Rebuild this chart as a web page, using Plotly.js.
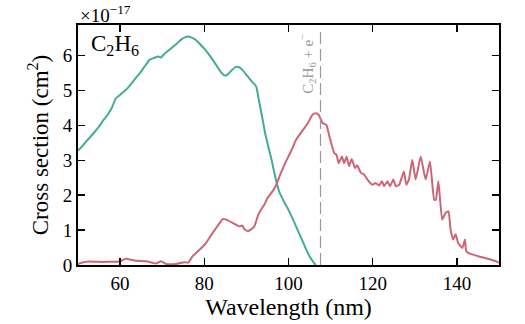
<!DOCTYPE html>
<html>
<head>
<meta charset="utf-8">
<script src="https://cdn.plot.ly/plotly-3.0.1.min.js"></script>
<style>html,body{margin:0;padding:0;background:#fff;}#chart{width:525px;height:324px;}</style>
</head>
<body>
<div id="chart"></div>
<script>
// Absorption (teal) cross section, units of 1e-17 cm^2
const absWave = [50,51,52,53,54,55,56,57,58,59,60,61,62,63,64,65,66,67,68,69,69.7,70.5,71.5,72.5,73.5,74.5,75.5,76,77,78,79,80,81,82,83,84,84.8,85.5,86.5,87.5,88.3,89,90,91,92.3,93,93.8,94.5,95.2,96,97,97.8,99,100,101,102,103,104,105,106,106.5];
const absXsec = [3.28,3.40,3.55,3.68,3.82,3.97,4.15,4.30,4.50,4.78,4.88,4.98,5.10,5.25,5.40,5.55,5.72,5.88,5.93,5.98,5.95,6.05,6.15,6.25,6.35,6.46,6.53,6.55,6.52,6.45,6.33,6.20,6.05,5.88,5.70,5.52,5.43,5.46,5.58,5.68,5.67,5.60,5.45,5.30,5.12,4.70,4.20,3.75,3.40,3.00,2.45,2.10,1.80,1.58,1.32,1.05,0.78,0.50,0.25,0.07,0.0];

// Ionization (rose) cross section
const ionWave = [50,51,52.7,55,57,59.8,61.4,63.7,66.2,68.5,69.7,70.9,73.3,75.3,76.2,77.2,78.8,80.4,81.6,82.8,84.4,85.2,86.7,88.3,89.1,89.5,90.3,91.1,91.9,92.7,93.5,94.25,95.0,96.2,97.0,98.2,99.4,100.6,101.8,103.3,104.5,105.7,106.5,107.2,108.1,109.0,109.7,110.85,111.4,111.9,112.7,113.2,113.8,114.4,115.0,115.8,116.3,117.2,117.9,118.75,119.9,120.7,121.5,122.2,122.7,123.5,124.1,124.9,125.5,126.3,127.4,128.0,128.6,129.4,130.2,131.4,132.2,132.6,133.6,134.6,135.0,135.6,136.5,137.3,138.0,138.5,139.1,139.7,140.3,141.3,141.9,142.2,142.9,146,149.2,150];
const ionXsec = [0.03,0.07,0.10,0.09,0.09,0.10,0.18,0.12,0.11,0.04,0.11,0.03,0.03,0.08,0.07,0.25,0.43,0.63,0.85,1.06,1.32,1.30,1.21,1.11,1.13,1.03,0.97,1.02,1.11,1.40,1.59,1.73,1.92,2.11,2.27,2.64,2.97,3.26,3.59,3.85,4.05,4.31,4.35,4.30,4.07,4.02,3.69,3.21,3.16,2.92,3.11,2.92,3.10,2.83,3.04,2.78,2.86,2.64,2.60,2.45,2.30,2.35,2.28,2.40,2.26,2.40,2.26,2.45,2.26,2.30,2.68,2.30,2.45,3.02,2.45,3.11,2.64,2.45,2.97,1.87,1.87,2.40,1.30,1.49,1.54,1.02,0.73,0.88,0.63,0.49,0.73,0.40,0.33,0.22,0.11,0.06];

const threshold = 107.6;
const xTickVals = [60,80,100,120,140];
const yTickVals = [0,1,2,3,4,5,6];

const font = "'Liberation Serif', 'Times New Roman', serif";

const data = [
  {x: absWave, y: absXsec, type: 'scatter', mode: 'lines', line: {color: '#44AA99', width: 2, shape: 'spline', smoothing: 0.4}, hoverinfo: 'skip'},
  {x: ionWave, y: ionXsec, type: 'scatter', mode: 'lines', line: {color: '#CC6677', width: 2, shape: 'spline', smoothing: 0.4}, hoverinfo: 'skip'}
];

const axisCommon = {
  showline: true, linecolor: '#000', linewidth: 2, mirror: 'ticks',
  ticks: 'inside', ticklen: 7, tickwidth: 1.5, tickcolor: '#000',
  showgrid: false, zeroline: false,
  tickfont: {family: font, size: 19, color: '#000'}
};

const layout = {
  width: 525, height: 324,
  margin: {l: 78, r: 26, t: 25, b: 59},
  paper_bgcolor: '#fff', plot_bgcolor: '#fff',
  showlegend: false,
  xaxis: Object.assign({}, axisCommon, {
    range: [50, 150], tickvals: xTickVals, ticktext: xTickVals.map(String),
    title: {text: 'Wavelength (nm)', font: {family: font, size: 24, color: '#000'}, standoff: 1}
  }),
  yaxis: Object.assign({}, axisCommon, {
    range: [0, 6.88], tickvals: yTickVals, ticktext: yTickVals.map(String),
    title: {text: 'Cross section (cm<sup>2</sup>)', font: {family: font, size: 23, color: '#000'}, standoff: 8}
  }),
  shapes: [
    {type: 'line', xref: 'x', yref: 'paper', x0: threshold, x1: threshold, y0: 0, y1: 0.99,
     line: {color: '#999', width: 1.2, dash: '12px,5px'}}
  ],
  annotations: [
    {text: '×10<sup>−17</sup>', xref: 'paper', yref: 'paper', x: 0, y: 1, xanchor: 'left', yanchor: 'bottom',
     yshift: -3, showarrow: false, font: {family: font, size: 19, color: '#000'}},
    {text: 'C<sub>2</sub>H<sub>6</sub>', xref: 'paper', yref: 'paper', x: 0.027, y: 0.985, xanchor: 'left', yanchor: 'top',
     showarrow: false, font: {family: font, size: 23, color: '#000'}},
    {text: 'C<sub>2</sub>H<sub>6</sub> + e<sup>−</sup>', xref: 'x', yref: 'paper', x: threshold, y: 0.97, xanchor: 'right', yanchor: 'top',
     xshift: -1, textangle: -90, showarrow: false, font: {family: font, size: 15, color: '#999'}}
  ]
};

Plotly.newPlot('chart', data, layout, {staticPlot: true, displayModeBar: false});
</script>
</body>
</html>
